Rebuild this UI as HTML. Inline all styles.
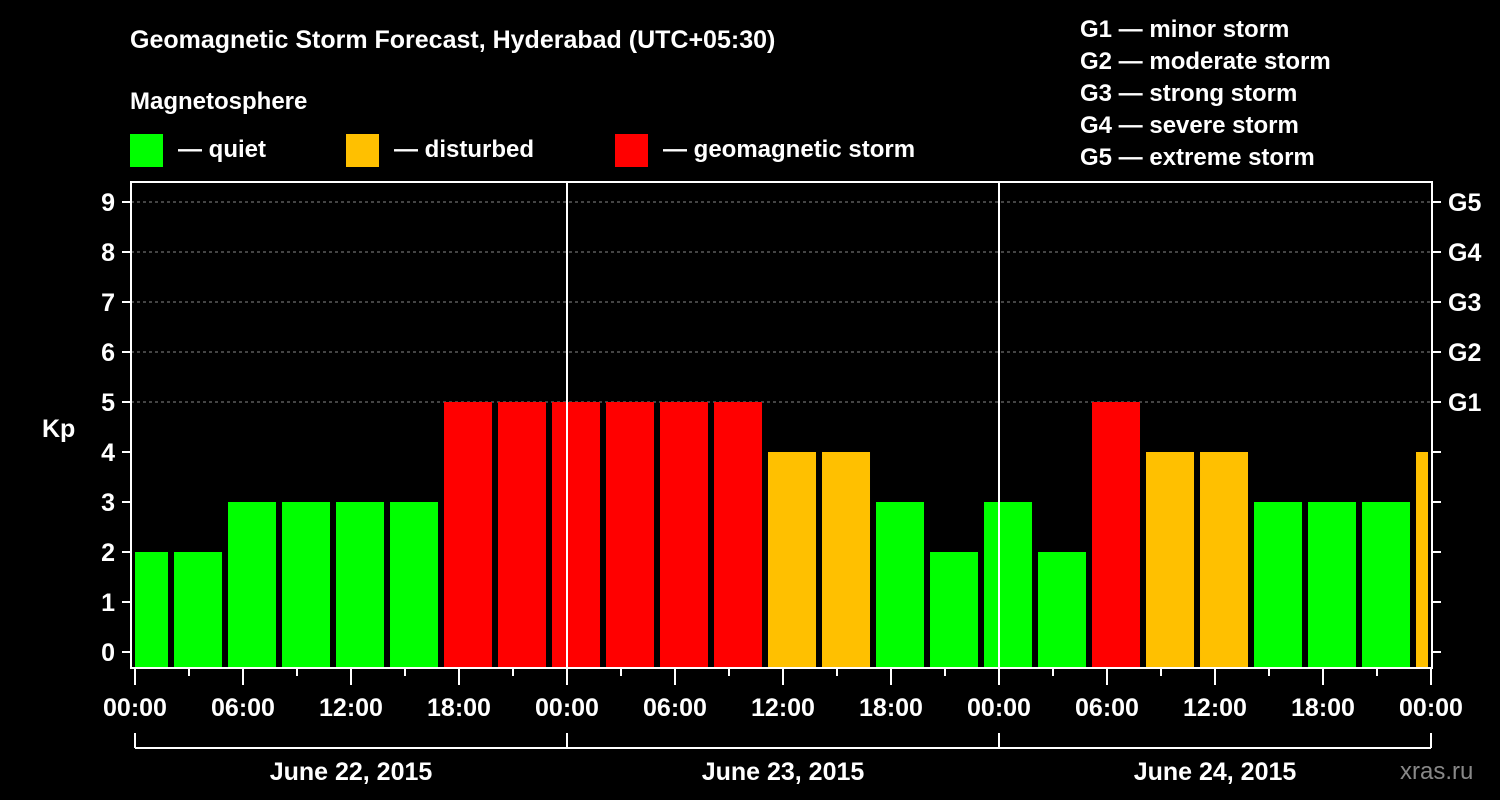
<!DOCTYPE html>
<html><head><meta charset="utf-8"><style>
body{margin:0;background:#000;}
svg{display:block;font-family:"Liberation Sans",sans-serif;font-weight:bold;}
</style></head><body>
<svg id="c" width="1500" height="800">
<rect width="1500" height="800" fill="#000"/>
<text x="130" y="48" fill="#fff" font-size="25">Geomagnetic Storm Forecast, Hyderabad (UTC+05:30)</text>
<text x="130" y="109" fill="#fff" font-size="24">Magnetosphere</text>
<g><rect x="130" y="134" width="33" height="33" fill="#00ff00"/><text x="178" y="157" fill="#fff" font-size="24">— quiet</text></g>
<g><rect x="346" y="134" width="33" height="33" fill="#ffc000"/><text x="394" y="157" fill="#fff" font-size="24">— disturbed</text></g>
<g><rect x="615" y="134" width="33" height="33" fill="#ff0000"/><text x="663" y="157" fill="#fff" font-size="24">— geomagnetic storm</text></g>
<g fill="#fff" font-size="24">
<text x="1080" y="37">G1 — minor storm</text>
<text x="1080" y="69">G2 — moderate storm</text>
<text x="1080" y="101">G3 — strong storm</text>
<text x="1080" y="133">G4 — severe storm</text>
<text x="1080" y="165">G5 — extreme storm</text>
</g>
<text x="42" y="437" fill="#fff" font-size="25">Kp</text>
<text x="1400" y="779" fill="#888" font-size="24" font-weight="normal">xras.ru</text>
<g id="plot"></g>
</svg>
<script>
const kpValues=[2,2,3,3,3,3,5,5,5,5,5,5,4,4,3,2,3,2,5,4,4,3,3,3,4];
const yTicks=[0,1,2,3,4,5,6,7,8,9];
const gLabels=["G1","G2","G3","G4","G5"];
const xLabels=["00:00","06:00","12:00","18:00","00:00","06:00","12:00","18:00","00:00","06:00","12:00","18:00","00:00"];
const dayLabels=["June 22, 2015","June 23, 2015","June 24, 2015"];
const NS="http://www.w3.org/2000/svg";
const g=document.getElementById('plot');
const L=131,R=1432,T=182,B=668;
const y=v=>652-50*v;
const xh=h=>135+18*h; // hours from start
function el(t,a,p){const e=document.createElementNS(NS,t);for(const k in a)e.setAttribute(k,a[k]);(p||g).appendChild(e);return e;}
function col(v){return v>=5?'#ff0000':v>=4?'#ffc000':'#00ff00';}
// gridlines
[5,6,7,8,9].forEach(v=>{const l=el('line',{x1:L,x2:R,y1:y(v),y2:y(v),stroke:'#888','stroke-dasharray':'3,3','stroke-width':1});

});
// bars
kpValues.forEach((v,i)=>{let x0=xh(i*3-0.833);let x1=x0+48;x0=Math.max(x0,L+4);x1=Math.min(x1,R-4);
const r=el('rect',{x:x0,y:y(v),width:x1-x0,height:B-y(v),fill:col(v)});

});
// day dividers
[24,48].forEach(h=>{const l=el('line',{x1:xh(h),x2:xh(h),y1:T,y2:B,stroke:'#fff','stroke-width':2});

});
// frame
const f=el('rect',{x:L,y:T,width:R-L,height:B-T,fill:'none',stroke:'#fff','stroke-width':2});


// y ticks
yTicks.forEach(v=>{el('line',{x1:L-9,x2:L,y1:y(v),y2:y(v),stroke:'#fff','stroke-width':2});
el('line',{x1:R,x2:R+9,y1:y(v),y2:y(v),stroke:'#fff','stroke-width':2});
const t=el('text',{x:L-16,y:y(v)+9,fill:'#fff','font-size':25,'text-anchor':'end'});t.textContent=v;

});
gLabels.forEach((s,i)=>{const t=el('text',{x:1448,y:y(5+i)+9,fill:'#fff','font-size':25});t.textContent=s;

});
// x ticks
for(let h=0;h<=72;h+=3){const maj=h%6===0;el('line',{x1:xh(h),x2:xh(h),y1:B,y2:B+(maj?17:8),stroke:'#fff','stroke-width':2});}
xLabels.forEach((s,i)=>{const t=el('text',{x:xh(i*6),y:716,fill:'#fff','font-size':25,'text-anchor':'middle'});t.textContent=s;

});
// day bracket
el('line',{x1:xh(0),x2:xh(72),y1:748,y2:748,stroke:'#fff','stroke-width':2});
[0,24,48,72].forEach(h=>el('line',{x1:xh(h),x2:xh(h),y1:733,y2:748,stroke:'#fff','stroke-width':2}));
dayLabels.forEach((s,i)=>{const t=el('text',{x:xh(i*24+12),y:780,fill:'#fff','font-size':25,'text-anchor':'middle'});t.textContent=s;

});
</script>
</body></html>
